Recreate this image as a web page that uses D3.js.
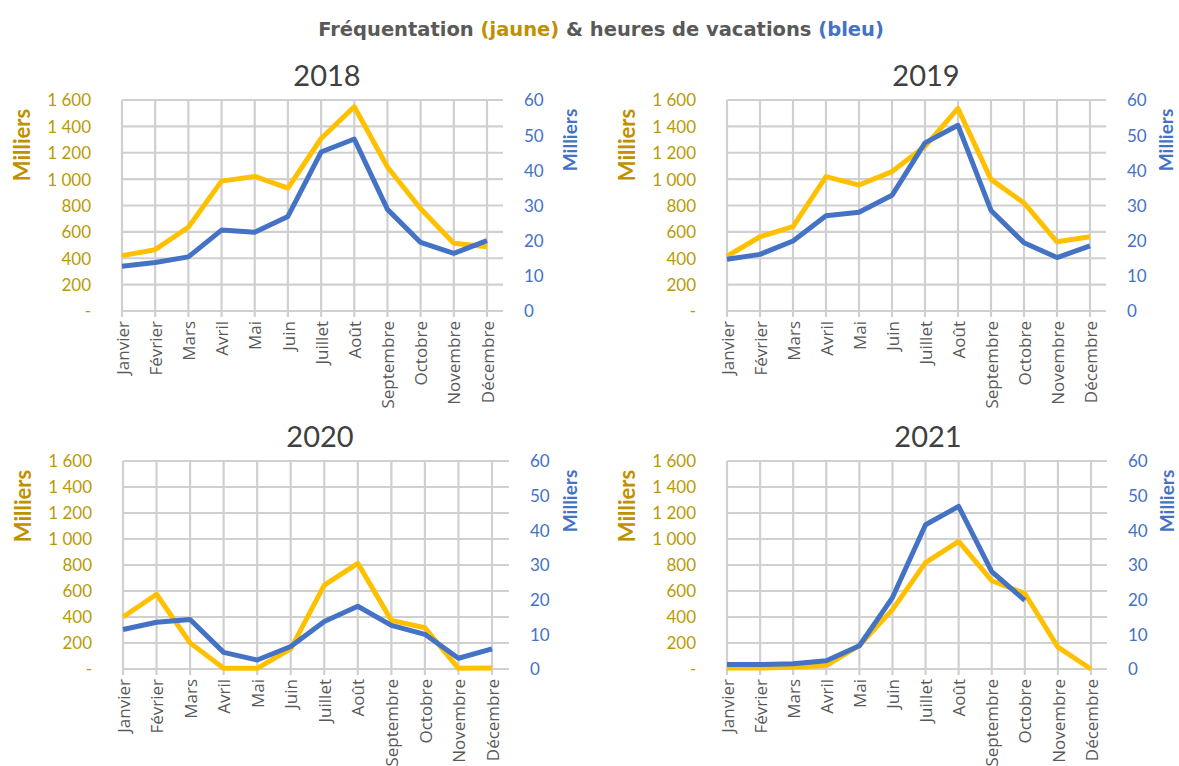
<!DOCTYPE html>
<html><head><meta charset="utf-8">
<script src="https://cdn.jsdelivr.net/npm/d3@7"></script>
<style>
body{margin:0;background:#fff;}
svg{display:block;}
text{font-family:Lato,"Open Sans",sans-serif;}
</style></head>
<body><svg id="c" width="1179" height="766"></svg>
<script>
const months = ["Janvier","Février","Mars","Avril","Mai","Juin","Juillet","Août","Septembre","Octobre","Novembre","Décembre"];
const years = ["2018","2019","2020","2021"];
// Fréquentation (milliers) – jaune, axe gauche
const freq2018 = [420,465,635,985,1021,932,1308,1549,1092,775,513,488];
const freq2019 = [415,563,640,1019,955,1057,1249,1536,998,819,525,563];
const freq2020 = [400,575,201,5,5,155,645,813,374,317,5,8];
const freq2021 = [8,8,13,26,181,457,818,981,679,581,168,0];
// Heures de vacations (milliers) – bleu, axe droit
const vac2018 = [12.7,13.8,15.4,23.0,22.4,26.9,45.2,48.9,28.9,19.5,16.4,20.0];
const vac2019 = [14.7,16.1,19.9,27.1,28.1,32.9,47.8,52.8,28.6,19.4,15.2,18.5];
const vac2020 = [11.4,13.5,14.3,4.8,2.6,6.5,13.7,18.1,12.6,10.0,3.1,5.8];
const vac2021 = [1.3,1.3,1.5,2.4,6.7,20.6,41.6,46.9,28.1,19.8,null,null];
const leftTicks = [0,200,400,600,800,1000,1200,1400,1600];
const rightTicks = [0,10,20,30,40,50,60];

const freqs = [freq2018,freq2019,freq2020,freq2021];
const vacs = [vac2018,vac2019,vac2020,vac2021];

const GOLD = "#BF9000", GOLDT = "#B99A08", BLUE = "#4472C4", GRAY = "#595959";
const svg = d3.select("#c");

// main title
const t = svg.append("text").attr("x",601).attr("y",36).attr("text-anchor","middle")
  .style("font-family","'DejaVu Sans',sans-serif")
  .style("font-weight","bold").style("font-size","19.5px").attr("fill",GRAY);
t.append("tspan").text("Fréquentation ");
t.append("tspan").attr("fill",GOLD).text("(jaune)");
t.append("tspan").text(" & heures de vacations ");
t.append("tspan").attr("fill",BLUE).text("(bleu)");

const layouts = [
  {x0:122, x1:487, gx:503, top:100, bot:311, ty:86, tx:327, rmx:570},
  {x0:727, x1:1090, gx:1106, top:100, bot:311, ty:86, tx:926, rmx:1166},
  {x0:123, x1:492, gx:509, top:461, bot:669, ty:447, tx:320, rmx:570},
  {x0:727, x1:1091, gx:1107, top:461, bot:669, ty:447, tx:928, rmx:1167}
];

const fmtL = v => v===0 ? "-" : d3.format(",")(v).replace(/,/g," ");

layouts.forEach((L,i)=>{
  const g = svg.append("g");
  const x = d3.scalePoint().domain(months).range([L.x0,L.x1]);
  const yL = d3.scaleLinear().domain([0,1600]).range([L.bot,L.top]);
  const yR = d3.scaleLinear().domain([0,60]).range([L.bot,L.top]);

  // horizontal gridlines
  g.selectAll("line.h").data(leftTicks).join("line")
    .attr("x1",L.x0).attr("x2",L.gx).attr("y1",d=>yL(d)).attr("y2",d=>yL(d))
    .attr("stroke","#D0D0D0").attr("stroke-width",2.2);
  // vertical gridlines
  g.selectAll("line.v").data(months).join("line")
    .attr("x1",d=>x(d)).attr("x2",d=>x(d)).attr("y1",L.top).attr("y2",L.bot+6)
    .attr("stroke","#D0D0D0").attr("stroke-width",2.2);

  // left axis
  const axL = g.append("g").attr("transform",`translate(${L.x0-31},0)`)
    .call(d3.axisLeft(yL).tickValues(leftTicks).tickFormat(fmtL).tickSize(0).tickPadding(0));
  axL.select(".domain").remove();
  axL.selectAll("text").attr("fill",GOLDT).style("font-size","17px").attr("dy","0.35em");

  // right axis
  const axR = g.append("g").attr("transform",`translate(${L.gx+21},0)`)
    .call(d3.axisRight(yR).tickValues(rightTicks).tickSize(0).tickPadding(0));
  axR.select(".domain").remove();
  axR.selectAll("text").attr("fill",BLUE).style("font-size","17px").attr("dy","0.35em");

  // bottom axis labels
  const axB = g.append("g").attr("transform",`translate(0,${L.bot+10})`)
    .call(d3.axisBottom(x).tickSize(0).tickPadding(0));
  axB.select(".domain").remove();
  axB.selectAll("text").attr("fill",GRAY).style("font-size","17px")
    .style("font-family","'Open Sans',sans-serif")
    .attr("transform","rotate(-90)").attr("text-anchor","end")
    .attr("x",0).attr("y",0).attr("dx",0).attr("dy","0.36em");

  // axis titles
  g.append("text").attr("transform",`translate(${L.x0-100},${L.top+45}) rotate(-90)`)
    .attr("text-anchor","middle").attr("dy","0.35em").style("font-weight","bold").style("font-size","22px")
    .attr("fill",GOLD).text("Milliers");
  g.append("text").attr("transform",`translate(${L.rmx},${L.top+40}) rotate(-90)`)
    .attr("text-anchor","middle").attr("dy","0.35em").style("font-weight","bold").style("font-size","19px")
    .attr("fill",BLUE).text("Milliers");

  // year title
  g.append("text").attr("x",L.tx).attr("y",L.ty).attr("text-anchor","middle")
    .style("font-size","29px").attr("fill","#404040").text(years[i]);

  // lines
  const lineL = d3.line().defined(d=>d!=null).x((d,j)=>x(months[j])).y(d=>yL(d));
  const lineR = d3.line().defined(d=>d!=null).x((d,j)=>x(months[j])).y(d=>yR(d));
  g.append("path").datum(freqs[i]).attr("d",lineL).attr("fill","none")
    .attr("stroke","#FFC000").attr("stroke-width",5).attr("stroke-linejoin","round");
  g.append("path").datum(vacs[i]).attr("d",lineR).attr("fill","none")
    .attr("stroke",BLUE).attr("stroke-width",5).attr("stroke-linejoin","round");
});
</script></body></html>
